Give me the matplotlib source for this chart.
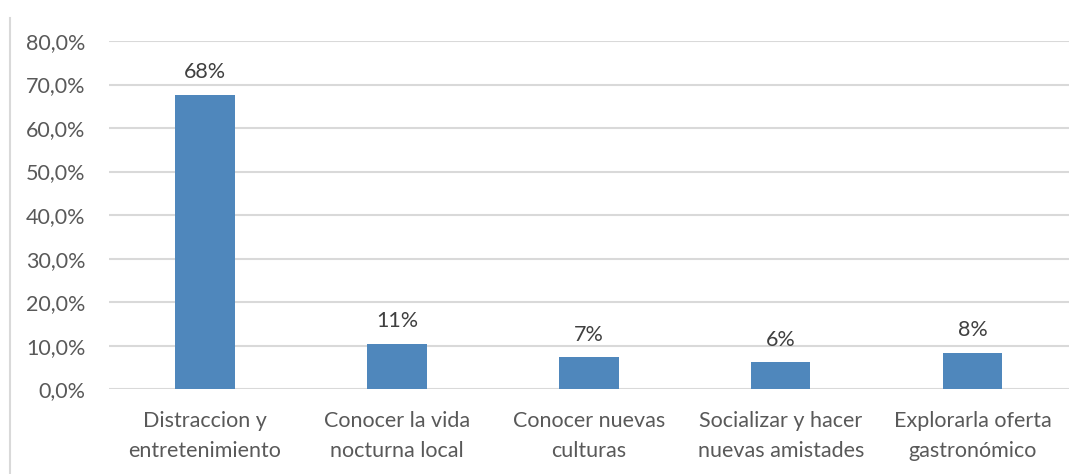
import matplotlib

matplotlib.use("Agg")
import matplotlib.pyplot as plt
from matplotlib.lines import Line2D
from matplotlib.ticker import FuncFormatter

categories = [
    "Distraccion y\nentretenimiento",
    "Conocer la vida\nnocturna local",
    "Conocer nuevas\nculturas",
    "Socializar y hacer\nnuevas amistades",
    "Explorarla oferta\ngastronómico",
]
values = [67.6, 10.4, 7.3, 6.2, 8.3]
labels = ["68%", "11%", "7%", "6%", "8%"]
yticks = [0, 10, 20, 30, 40, 50, 60, 70, 80]

plt.rcParams["font.family"] = ["Lato", "DejaVu Sans"]
TEXT = "#595959"
GRID = "#d9d9d9"
BAR = "#4f87bc"

fig = plt.figure(figsize=(10.86, 4.74), dpi=100)
ax = fig.add_axes([0.1004, 0.179, 0.8836, 0.7345])

x = range(len(categories))
ax.bar(x, values, width=0.31, color=BAR, zorder=3)
for xi, v, lab in zip(x, values, labels):
    ax.text(xi, v + 2.9, lab, ha="center", va="bottom", fontsize=15.5, color="#404040")

ax.set_xlim(-0.5, len(categories) - 0.5)
ax.set_ylim(0, 80)
ax.set_yticks(yticks)
ax.yaxis.set_major_formatter(FuncFormatter(lambda v, _: f"{v:.1f}%".replace(".", ",")))
ax.set_xticks(list(x))
ax.set_xticklabels(categories, fontsize=15.5, color=TEXT, linespacing=1.6)
ax.tick_params(axis="y", labelsize=15.5, labelcolor=TEXT, length=0, pad=17)
ax.tick_params(axis="x", length=0, pad=16)
ax.grid(axis="y", color=GRID, linewidth=1.5, zorder=0)
for s in ax.spines.values():
    s.set_visible(False)

fig.add_artist(Line2D([10 / 1086, 10 / 1086], [0, 1 - 18 / 474], transform=fig.transFigure,
                      color=GRID, linewidth=1.5))

fig.savefig("out.png", dpi=100)
